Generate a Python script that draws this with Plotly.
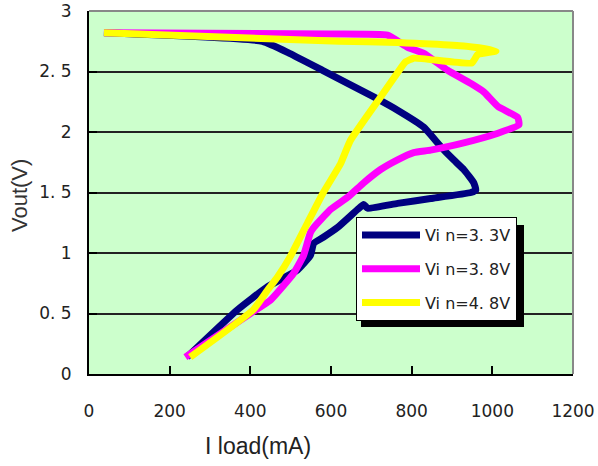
import plotly.graph_objects as go

# ---- data ----
names = ["Vi n=3. 3V", "Vi n=3. 8V", "Vi n=4. 8V"]
colors = ["#000080", "#FF00FF", "#FFFF00"]

x33 = [37, 430, 497, 579, 706, 765, 830, 872, 904, 929, 954, 959, 947, 847, 765, 691, 681, 666, 616, 581, 557, 549, 517, 442, 368, 243]
y33 = [2.82, 2.75, 2.65, 2.51, 2.29, 2.18, 2.04, 1.88, 1.77, 1.69, 1.58, 1.52, 1.50, 1.45, 1.41, 1.37, 1.40, 1.36, 1.21, 1.13, 1.08, 0.98, 0.86, 0.72, 0.53, 0.14]

x38 = [37, 599, 740, 790, 830, 889, 947, 979, 1014, 1063, 1066, 1014, 929, 847, 805, 765, 723, 681, 641, 599, 557, 549, 532, 507, 450, 400, 239]
y38 = [2.82, 2.81, 2.80, 2.70, 2.65, 2.51, 2.40, 2.33, 2.21, 2.12, 2.06, 1.99, 1.91, 1.85, 1.83, 1.77, 1.69, 1.58, 1.46, 1.36, 1.21, 1.17, 0.98, 0.83, 0.61, 0.50, 0.14]

x48 = [37, 621, 765, 929, 1009, 964, 949, 805, 785, 765, 723, 648, 624, 581, 542, 499, 467, 442, 407, 251]
y48 = [2.82, 2.75, 2.74, 2.71, 2.67, 2.64, 2.57, 2.61, 2.58, 2.49, 2.29, 1.93, 1.74, 1.50, 1.25, 0.97, 0.80, 0.69, 0.53, 0.14]

xs = [x33, x38, x48]
ys = [y33, y38, y48]

x_ticks = [0, 200, 400, 600, 800, 1000, 1200]
y_ticks = [0, 0.5, 1, 1.5, 2, 2.5, 3]
y_ticktext = ["0", "0. 5", "1", "1. 5", "2", "2. 5", "3"]
x_title = "I load(mA)"
y_title = "Vout(V)"

fig = go.Figure()
for i in range(3):
    fig.add_trace(go.Scatter(
        x=xs[i], y=ys[i], mode="lines", name=names[i],
        line=dict(color=colors[i], width=7, shape="spline", smoothing=0.4),
        legendgroup=f"g{i}",
    ))

W, H = 598, 466
L, R, T, B = 89, 25, 11, 92
pw, ph = W - L - R, H - T - B


def px_x(p):  # screen x -> paper fraction
    return (p - L) / pw


def px_y(p):  # screen y -> paper fraction
    return (H - B - p) / ph


tick_font = dict(family="DejaVu Sans", size=17, color="#222222")

fig.update_layout(
    width=W, height=H,
    margin=dict(l=L, r=R, t=T, b=B, pad=0, autoexpand=False),
    paper_bgcolor="white",
    plot_bgcolor="#CCFFCC",
    showlegend=True,
    legend=dict(
        x=px_x(356), y=px_y(217),
        xanchor="left", yanchor="top",
        bgcolor="white", bordercolor="black", borderwidth=1,
        font=dict(family="DejaVu Sans", size=16, color="#222222"),
        tracegroupgap=10, itemwidth=58,
        traceorder="grouped",
    ),
    xaxis=dict(
        range=[0, 1200], tickvals=x_ticks, ticktext=[str(v) for v in x_ticks],
        showgrid=False, zeroline=False, automargin=False,
        showline=True, linecolor="black", linewidth=2,
        ticks="inside", ticklen=8, tickwidth=1.5, tickcolor="black",
        tickfont=tick_font, ticklabelstandoff=21,
    ),
    yaxis=dict(
        range=[0, 3], tickvals=y_ticks, ticktext=y_ticktext,
        showgrid=True, gridcolor="#222222", gridwidth=1.5,
        zeroline=False, automargin=False,
        showline=True, linecolor="black", linewidth=2,
        ticks="inside", ticklen=8, tickwidth=1.5, tickcolor="black",
        tickfont=tick_font, ticklabelstandoff=12,
    ),
    shapes=[
        # legend shadow
        dict(type="rect", xref="paper", yref="paper",
             x0=px_x(361), x1=px_x(524),
             y0=px_y(327), y1=px_y(225),
             fillcolor="black", line=dict(width=0), layer="above"),
        # gray top / right frame
        dict(type="line", xref="paper", yref="paper", x0=0, x1=1, y0=1, y1=1,
             line=dict(color="#888888", width=2), layer="above"),
        dict(type="line", xref="paper", yref="paper", x0=1, x1=1, y0=0, y1=1,
             line=dict(color="#888888", width=2), layer="above"),
    ],
    annotations=[
        dict(text=x_title, xref="paper", yref="paper",
             x=px_x(258), y=px_y(446),
             xanchor="center", yanchor="middle", showarrow=False,
             font=dict(family="Liberation Sans", size=23, color="#222222")),
        dict(text=y_title, xref="paper", yref="paper",
             x=px_x(20), y=px_y(196),
             xanchor="center", yanchor="middle", showarrow=False, textangle=-90,
             font=dict(family="Liberation Sans", size=22, color="#333333")),
    ],
)

fig.write_html("out.html", config={"displayModeBar": False},
               post_script="document.body.style.margin='0';")
